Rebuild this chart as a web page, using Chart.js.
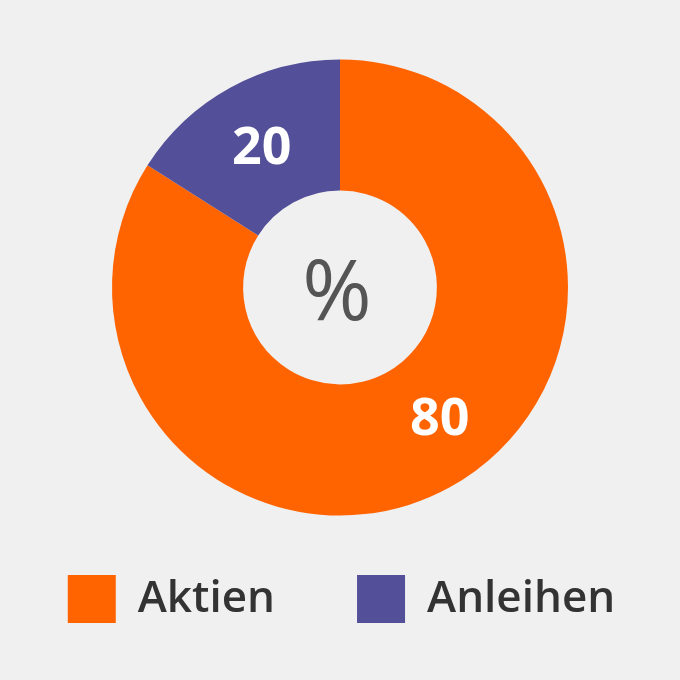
<!DOCTYPE html>
<html>
<head>
<meta charset="utf-8">
<script src="https://cdn.jsdelivr.net/npm/chart.js@4/dist/chart.umd.min.js"></script>
<style>
  html, body { margin: 0; padding: 0; background: #f0f0f0; }
  #wrap { width: 680px; height: 680px; }
</style>
</head>
<body>
<div id="wrap"><canvas id="donut" width="680" height="680"></canvas></div>
<script>
const categories = ['Aktien', 'Anleihen'];
const shares = [84, 16];
// the numbers printed on the segments
const shareLabels = ['80', '20'];
const centerText = '%';
const colors = ['#ff6400', '#534f99'];

const FONT = '"Open Sans", "Noto Sans", sans-serif';

// writes the numbers into the ring and the % sign in the hole
const ringLabels = {
    id: 'ringLabels',
    afterDatasetsDraw(chart, args, opts) {
        const ctx = chart.ctx;
        const arcs = chart.getDatasetMeta(0).data;
        ctx.save();
        ctx.textAlign = 'center';
        ctx.textBaseline = 'alphabetic';
        ctx.fillStyle = '#ffffff';
        ctx.font = '700 52px ' + FONT;
        arcs.forEach((arc, i) => {
            const p = arc.getProps(['x', 'y', 'startAngle', 'endAngle', 'innerRadius', 'outerRadius'], true);
            const a = p.startAngle + (p.endAngle - p.startAngle) * opts.anglePos[i];
            const r = (p.innerRadius + p.outerRadius) / 2;
            ctx.fillText(shareLabels[i], p.x + Math.cos(a) * r, p.y + Math.sin(a) * r + 19);
        });
        const c = arcs[0];
        ctx.fillStyle = '#555555';
        ctx.font = '400 84px ' + FONT;
        ctx.fillText(centerText, c.x - 3, c.y + 32);
        ctx.restore();
    }
};

new Chart(document.getElementById('donut'), {
    type: 'doughnut',
    data: {
        labels: categories,
        datasets: [{
            data: shares,
            backgroundColor: colors,
            borderWidth: 0,
            clip: false
        }]
    },
    options: {
        responsive: false,
        animation: false,
        radius: 228,
        cutout: '42.5%',
        // wider than the canvas on the sides so both legend items fit on one row
        layout: {
            padding: { top: 82, bottom: 47, left: -28, right: -31 }
        },
        plugins: {
            tooltip: { enabled: false },
            legend: {
                position: 'bottom',
                labels: {
                    boxWidth: 48,
                    boxHeight: 48,
                    padding: 82,
                    color: '#333333',
                    font: { family: FONT, size: 44, weight: '600' }
                }
            },
            ringLabels: { anglePos: [0.47, 0.5] }
        }
    },
    plugins: [ringLabels]
});
</script>
</body>
</html>
